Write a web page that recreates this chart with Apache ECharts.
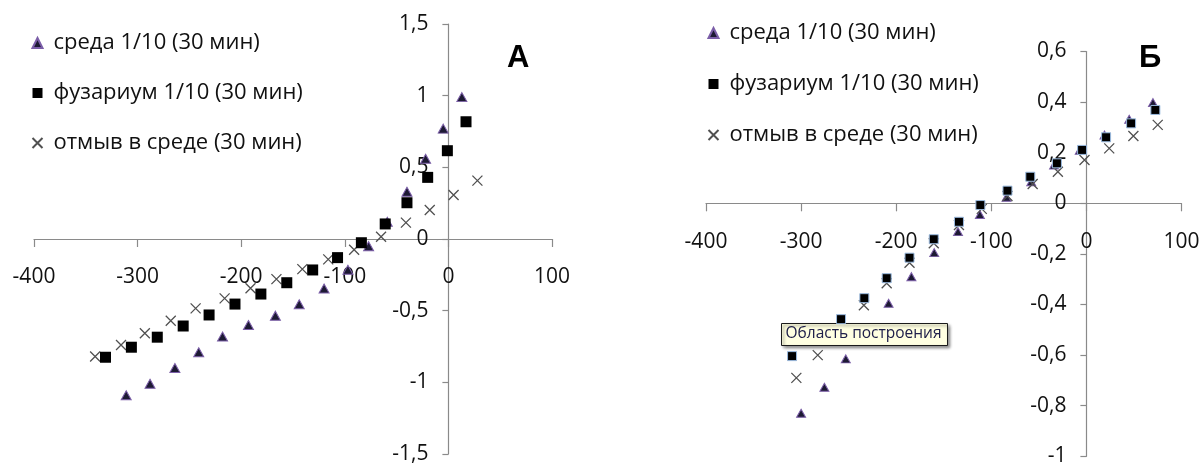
<!DOCTYPE html>
<html>
<head>
<meta charset="utf-8">
<script src="https://cdn.jsdelivr.net/npm/echarts@6/dist/echarts.min.js"></script>
<style>
html,body{margin:0;padding:0;background:#fff;}
#c{width:1204px;height:465px;}
</style>
</head>
<body>
<div id="c"></div>
<script>
// ---------- DATA ----------
const seriesNames = ['среда 1/10 (30 мин)', 'фузариум 1/10 (30 мин)', 'отмыв в среде (30 мин)'];
const xTicksA = [-400, -300, -200, -100, 0, 100];
const yTicksA = [-1.5, -1, -0.5, 0, 0.5, 1, 1.5];
const xTicksB = [-400, -300, -200, -100, 0, 100];
const yTicksB = [-1, -0.8, -0.6, -0.4, -0.2, 0, 0.2, 0.4, 0.6];

// Chart A
const aSredaX = [-311, -288, -264, -241, -218, -193, -167, -144, -120, -97, -77, -59, -40, -22, -5, 13];
const aSredaY = [-1.09, -1.01, -0.90, -0.79, -0.68, -0.60, -0.535, -0.455, -0.345, -0.215, -0.05, 0.12, 0.33, 0.56, 0.77, 0.99];
const aFusX = [-331, -306, -281, -256, -231, -206, -181, -156, -131, -107, -84, -61, -40, -20, -1, 17];
const aFusY = [-0.825, -0.755, -0.685, -0.607, -0.53, -0.454, -0.384, -0.305, -0.216, -0.13, -0.026, 0.105, 0.253, 0.43, 0.616, 0.818];
const aOtmX = [-341, -316, -293, -268, -244, -216, -191, -166, -141, -116, -91, -65, -41, -18, 5, 28];
const aOtmY = [-0.82, -0.74, -0.658, -0.57, -0.484, -0.414, -0.344, -0.28, -0.21, -0.142, -0.075, 0.016, 0.114, 0.202, 0.307, 0.407];

// Chart B
const bSredaX = [-300, -275.5, -253, -208, -184, -160, -135, -112, -84, -58, -34, -7, 19, 45, 70];
const bSredaY = [-0.83, -0.727, -0.615, -0.395, -0.29, -0.195, -0.112, -0.044, 0.024, 0.085, 0.151, 0.21, 0.27, 0.332, 0.398];
const bFusX = [-309.5, -258, -233.5, -210, -186, -160.5, -134, -111.5, -83, -59, -31, -4.5, 20.7, 47, 72.5];
const bFusY = [-0.604, -0.458, -0.375, -0.296, -0.215, -0.142, -0.073, -0.007, 0.05, 0.105, 0.158, 0.211, 0.261, 0.316, 0.369];
const bOtmX = [-305, -282.5, -234, -210, -186, -160.5, -134, -110, -83, -56.5, -30, -2, 24, 49.4, 75];
const bOtmY = [-0.69, -0.60, -0.403, -0.316, -0.235, -0.158, -0.086, -0.022, 0.029, 0.076, 0.125, 0.171, 0.217, 0.266, 0.31];

const titleA = 'А';
const titleB = 'Б';
const hintText = 'Область построения';

// ---------- helpers ----------
const zip = (xs, ys) => xs.map((x, i) => [x, ys[i]]);
const FONT = 'Open Sans';
const crossPath = 'path://M0,0L10,10M0,10L10,0';
const comma = v => String(v).replace('.', ',');
const AX = '#8a8a8a';

function xAxis(gridIndex, ticks) {
  return {
    type: 'value', gridIndex, position: 'bottom',
    min: ticks[0], max: ticks[ticks.length - 1], interval: ticks[1] - ticks[0],
    splitLine: {show: false},
    axisLine: {show: true, onZero: false, lineStyle: {color: AX, width: 1.2}},
    axisTick: {show: true, length: 8, lineStyle: {color: AX, width: 1.2}},
    axisLabel: {fontFamily: FONT, fontSize: 21, color: '#111', margin: 28, formatter: comma}
  };
}
function yAxis(gridIndex, ticks) {
  const step = Math.round((ticks[1] - ticks[0]) * 10) / 10;
  return {
    type: 'value', gridIndex, position: 'left',
    min: ticks[0], max: ticks[ticks.length - 1], interval: step,
    splitLine: {show: false},
    axisLine: {show: true, onZero: false, lineStyle: {color: AX, width: 1.2}},
    axisTick: {show: true, length: 6, lineStyle: {color: AX, width: 1.2}},
    axisLabel: {fontFamily: FONT, fontSize: 21, color: '#111', margin: 20,
      formatter: v => comma(Math.round(v * 10) / 10)}
  };
}

const triStyle = {color: '#1d1a33', borderColor: '#7b5ea8', borderWidth: 1, opacity: 1};
const sqStyleA = {color: '#000', opacity: 1};
const sqStyleB = {color: '#000', borderColor: '#9bbbe0', borderWidth: 1, opacity: 1};
const crossStyle = {color: 'none', borderColor: '#505050', borderWidth: 1.3, opacity: 1};

function mkSeries(name, data, idx, symbol, size, style, z) {
  return {
    type: 'scatter', name, data, xAxisIndex: idx, yAxisIndex: idx,
    symbol, symbolSize: size, itemStyle: style, z,
    emphasis: {disabled: true}, silent: true
  };
}

function mkLegend(left, top, gap) {
  return {
    data: seriesNames, orient: 'vertical', left, top, padding: 0,
    itemWidth: 10, itemHeight: 10, itemGap: gap, selectedMode: false,
    textStyle: {fontFamily: FONT, fontSize: 22, color: '#111', lineHeight: 24, padding: [0, 0, 0, 6]}
  };
}

const grids = [
  {left: 34, right: 652, top: 24, bottom: 11, containLabel: false, outerBoundsMode: 'none'},
  {left: 706, right: 22.5, top: 51.5, bottom: 8.7, containLabel: false, outerBoundsMode: 'none'}
];

const chart = echarts.init(document.getElementById('c'), null, {renderer: 'canvas'});
const option = {
  animation: false,
  backgroundColor: '#fff',
  title: [
    {text: titleA, left: 502, top: 38, textStyle: {fontFamily: 'Liberation Sans', fontSize: 31, fontWeight: 'bold', color: '#000'}},
    {text: titleB, left: 1134, top: 38, textStyle: {fontFamily: 'Liberation Sans', fontSize: 31, fontWeight: 'bold', color: '#000'}}
  ],
  legend: [mkLegend(30, 31, 26), mkLegend(706, 21, 27)],
  grid: grids,
  xAxis: [xAxis(0, xTicksA), xAxis(1, xTicksB)],
  yAxis: [yAxis(0, yTicksA), yAxis(1, yTicksB)],
  series: [
    mkSeries(seriesNames[0], zip(aSredaX, aSredaY), 0, 'triangle', [10, 9], triStyle, 2),
    mkSeries(seriesNames[2], zip(aOtmX, aOtmY), 0, crossPath, 10, crossStyle, 3),
    mkSeries(seriesNames[1], zip(aFusX, aFusY), 0, 'rect', 11, sqStyleA, 4),
    mkSeries(seriesNames[0], zip(bSredaX, bSredaY), 1, 'triangle', [9, 8], triStyle, 2),
    mkSeries(seriesNames[2], zip(bOtmX, bOtmY), 1, crossPath, 10, crossStyle, 3),
    mkSeries(seriesNames[1], zip(bFusX, bFusY), 1, 'rect', 9, sqStyleB, 4)
  ],
  graphic: [{
    type: 'group', left: 781, top: 323, z: 100,
    children: [
      {type: 'rect', shape: {x: 0, y: 0, width: 166, height: 22},
        style: {fill: '#ffffe1', stroke: '#1a1a1a', lineWidth: 1,
          shadowBlur: 3, shadowOffsetX: 2, shadowOffsetY: 2, shadowColor: 'rgba(0,0,0,0.45)'}},
      {type: 'text', x: 4, y: 2,
        style: {text: hintText, fontFamily: FONT, fontSize: 15.5, fill: '#20204a'}}
    ]
  }]
};
chart.setOption(option);

// move each axis so it crosses the other one at zero (like the original)
const H = 465, W = 1204;
const xOff = [], yOff = [];
for (let g = 0; g < 2; g++) {
  const p = chart.convertToPixel({gridIndex: g}, [0, 0]);
  const gridBottomY = H - grids[g].bottom;
  const gridLeftX = grids[g].left;
  xOff.push(-(gridBottomY - p[1]));
  yOff.push(-(p[0] - gridLeftX));
}
chart.setOption({
  xAxis: [{offset: xOff[0]}, {offset: xOff[1]}],
  yAxis: [{offset: yOff[0]}, {offset: yOff[1]}]
});
</script>
</body>
</html>
